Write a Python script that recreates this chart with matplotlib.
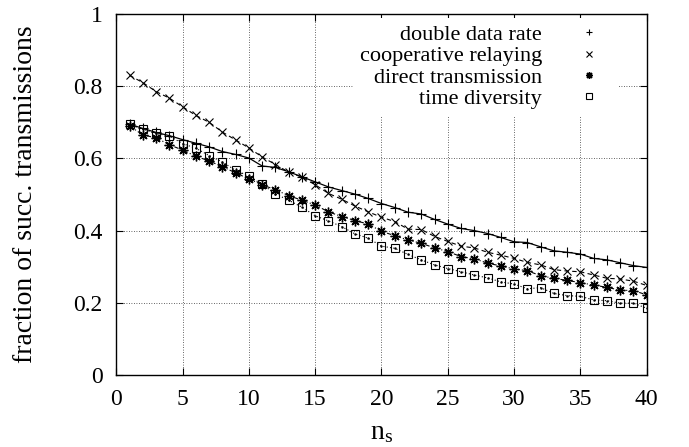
import matplotlib
matplotlib.use("Agg")
import matplotlib.pyplot as plt
from matplotlib.lines import Line2D

# Data
n_s = list(range(1, 41))

double_data_rate = [0.695, 0.683, 0.672, 0.663, 0.652, 0.642, 0.632, 0.619, 0.611, 0.601,
                    0.579, 0.575, 0.563, 0.549, 0.535, 0.521, 0.511, 0.501, 0.489, 0.475,
                    0.464, 0.451, 0.446, 0.431, 0.418, 0.406, 0.400, 0.392, 0.381, 0.369,
                    0.367, 0.355, 0.344, 0.340, 0.335, 0.323, 0.319, 0.311, 0.303, 0.298]

cooperative_relaying = [0.830, 0.810, 0.785, 0.767, 0.743, 0.719, 0.700, 0.673, 0.651, 0.629,
                        0.604, 0.583, 0.562, 0.548, 0.527, 0.503, 0.487, 0.468, 0.452, 0.437,
                        0.425, 0.404, 0.403, 0.384, 0.370, 0.357, 0.352, 0.340, 0.332, 0.323,
                        0.312, 0.305, 0.292, 0.288, 0.286, 0.277, 0.268, 0.266, 0.260, 0.248]

direct_transmission = [0.690, 0.665, 0.657, 0.638, 0.623, 0.606, 0.593, 0.577, 0.560, 0.543,
                       0.527, 0.513, 0.497, 0.484, 0.471, 0.452, 0.439, 0.428, 0.418, 0.398,
                       0.386, 0.374, 0.365, 0.352, 0.342, 0.328, 0.322, 0.310, 0.302, 0.294,
                       0.289, 0.275, 0.268, 0.262, 0.256, 0.249, 0.243, 0.235, 0.234, 0.222]

time_diversity = [0.694, 0.681, 0.669, 0.662, 0.641, 0.628, 0.608, 0.590, 0.567, 0.551,
                  0.528, 0.502, 0.484, 0.465, 0.441, 0.427, 0.411, 0.391, 0.379, 0.357,
                  0.351, 0.334, 0.319, 0.305, 0.295, 0.286, 0.277, 0.269, 0.258, 0.252,
                  0.239, 0.242, 0.226, 0.220, 0.218, 0.208, 0.206, 0.199, 0.199, 0.185]

labels = ["double data rate", "cooperative relaying", "direct transmission", "time diversity"]
x_ticks = [0, 5, 10, 15, 20, 25, 30, 35, 40]
y_ticks = [0, 0.2, 0.4, 0.6, 0.8, 1]
y_tick_labels = ["0", "0.2", "0.4", "0.6", "0.8", "1"]

plt.rcParams['font.family'] = ['Liberation Serif', 'DejaVu Serif']
plt.rcParams['mathtext.fontset'] = 'custom'
plt.rcParams['mathtext.rm'] = 'Liberation Serif'
plt.rcParams['mathtext.it'] = 'Liberation Serif:italic'

fig = plt.figure(figsize=(6.89, 4.47), dpi=100)
ax = fig.add_axes([0.1688, 0.161, 0.7698, 0.8077])

ax.plot(n_s, double_data_rate, color='black', lw=0.9, ls='-',
        marker='+', ms=7, mew=0.8)
ax.plot(n_s, cooperative_relaying, color='black', lw=0.8, ls=(0, (4, 3)),
        marker='x', ms=6, mew=0.8)
ax.plot(n_s, direct_transmission, color='black', lw=0.8, ls=(0, (4, 2, 1, 2)),
        marker=(8, 2, 0), ms=7, mew=1.0)
ax.plot(n_s, time_diversity, color='black', lw=0.8, ls=(0, (1, 2)),
        marker='s', ms=6, mfc='none', mew=0.8)
ax.plot(n_s, time_diversity, color='black', ls='none', marker='.', ms=1.5)

ax.set_xlim(0, 40)
ax.set_ylim(0, 1)
ax.set_xticks(x_ticks)
ax.set_yticks(y_ticks)
ax.set_yticklabels(y_tick_labels)
ax.tick_params(direction='in', top=True, right=True, length=5, width=0.8,
               labelsize=17, pad=10, colors='black')
ax.grid(True, color='black', ls=(0, (1, 2)), lw=0.6, alpha=0.8)
for sp in ax.spines.values():
    sp.set_linewidth(1.0)

ax.set_xlabel(r'$\mathrm{n_s}$', fontsize=20, labelpad=7)
ax.set_ylabel('fraction of succ. transmissions', fontsize=20, labelpad=25)

handles = [
    Line2D([], [], color='black', ls='none', marker='+', ms=5, mew=0.8),
    Line2D([], [], color='black', ls='none', marker='x', ms=4.5, mew=0.8),
    Line2D([], [], color='black', ls='none', marker=(8, 2, 0), ms=5, mew=1.0),
    Line2D([], [], color='black', ls='none', marker='s', ms=4.5, mfc='none', mew=0.8),
]
leg = ax.legend(handles, labels, loc='upper right', bbox_to_anchor=(0.945, 0.989),
                markerfirst=False, fontsize=16, frameon=True, framealpha=1,
                facecolor='white', edgecolor='none', fancybox=False,
                borderpad=0.3, labelspacing=0.03, handletextpad=1.1,
                handlelength=2.0, borderaxespad=0.0)
for t in leg.get_texts():
    t.set_ha('right')

fig.savefig('out.png', dpi=100)
